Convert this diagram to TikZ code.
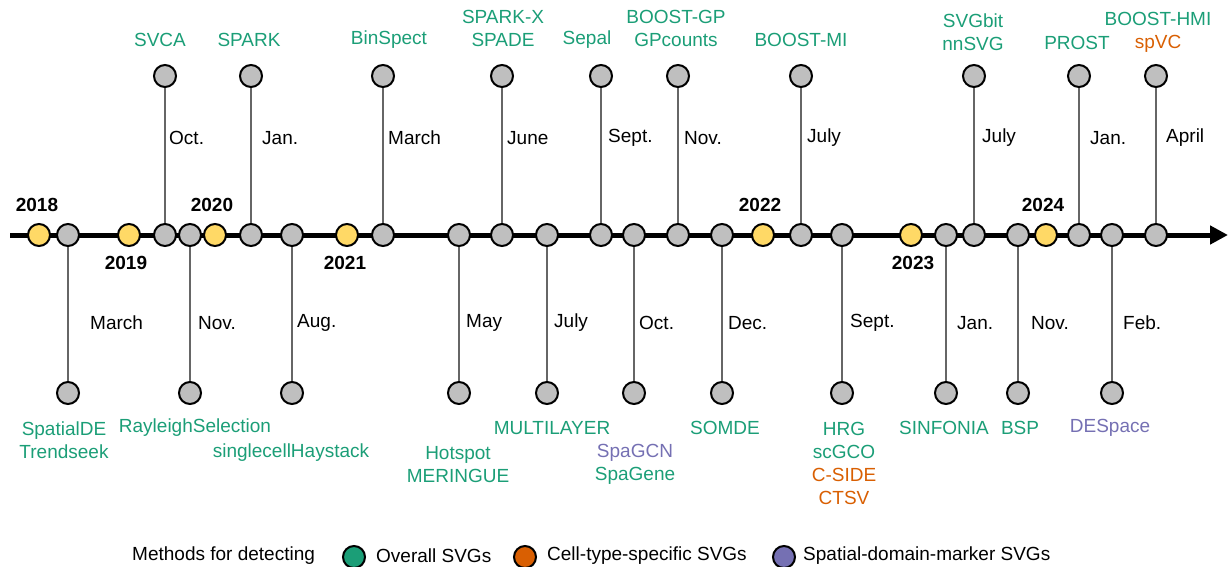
\documentclass[tikz,border=0pt]{standalone}
\usepackage{fontspec}
\setmainfont{Liberation Sans}
\usetikzlibrary{arrows.meta}
\definecolor{evtgray}{HTML}{BFBFBF}
\definecolor{yrgold}{HTML}{FFD966}
\definecolor{stemgray}{HTML}{666666}
\definecolor{ovgreen}{HTML}{1B9E77}
\definecolor{ctorange}{HTML}{D95F02}
\definecolor{sdpurple}{HTML}{7570B3}
\tikzset{
  evt/.style={circle, draw=black, line width=2pt, fill=evtgray, minimum size=22pt, inner sep=0pt},
  yr/.style={evt, fill=yrgold},
  stem/.style={draw=stemgray, line width=2pt},
  yrlab/.style={font=\fontsize{19}{23}\selectfont\bfseries, inner sep=0pt},
  month/.style={anchor=west, font=\fontsize{19}{23}\selectfont, inner sep=0pt},
  meth/.style={text=ovgreen, align=center, font=\fontsize{19}{23}\selectfont, inner sep=0pt},
  key/.style={circle, draw=black, line width=2pt, minimum size=22pt, inner sep=0pt}
}
\begin{document}
\begin{tikzpicture}[x=1pt,y=-1pt]
    \useasboundingbox (0,0) rectangle (1228,567);
    % Time axis
    \coordinate (ax0) at (10,235);
    \coordinate (ax1) at (1228,235);
    \draw[line width=5pt, -{Triangle[length=18pt,width=18pt]}] (ax0) -- (ax1);
    % Years
    \node[yr] (y18) at (39,235) {};   \node[yrlab] (y18l) at (37,205) {2018};
    \node[yr] (y19) at (129,235) {};  \node[yrlab] (y19l) at (126,263) {2019};
    \node[yr] (y20) at (215,235) {};  \node[yrlab] (y20l) at (212,205) {2020};
    \node[yr] (y21) at (347,235) {};  \node[yrlab] (y21l) at (345,263) {2021};
    \node[yr] (y22) at (763,235) {};  \node[yrlab] (y22l) at (760,205) {2022};
    \node[yr] (y23) at (911,235) {};  \node[yrlab] (y23l) at (913,263) {2023};
    \node[yr] (y24) at (1046,235) {}; \node[yrlab] (y24l) at (1043,205) {2024};
    % Upper events
    \node[evt] (oct19) at (165,235) {}; \node[evt] (oct19t) at (165,76) {};
    \draw[stem] (oct19) -- (oct19t);
    \node[month] (oct19m) at (169,138) {Oct.};
    \node[meth] (oct19l) at (160,40) {SVCA};
    \node[evt] (jan20) at (251,235) {}; \node[evt] (jan20t) at (251,76) {};
    \draw[stem] (jan20) -- (jan20t);
    \node[month] (jan20m) at (262,138) {Jan.};
    \node[meth] (jan20l) at (249,40) {SPARK};
    \node[evt] (mar21) at (383,235) {}; \node[evt] (mar21t) at (383,76) {};
    \draw[stem] (mar21) -- (mar21t);
    \node[month] (mar21m) at (388,138) {March};
    \node[meth] (mar21l) at (389,40) {BinSpect};
    \node[evt] (jun21) at (502,235) {}; \node[evt] (jun21t) at (502,76) {};
    \draw[stem] (jun21) -- (jun21t);
    \node[month] (jun21m) at (507,138) {June};
    \node[meth] (jun21l) at (503,28.5) {SPARK-X\\SPADE};
    \node[evt] (sep21) at (601,235) {}; \node[evt] (sep21t) at (601,76) {};
    \draw[stem] (sep21) -- (sep21t);
    \node[month] (sep21m) at (608,138) {Sept.};
    \node[meth] (sep21l) at (587,40) {Sepal};
    \node[evt] (nov21) at (678,235) {}; \node[evt] (nov21t) at (678,76) {};
    \draw[stem] (nov21) -- (nov21t);
    \node[month] (nov21m) at (684,138) {Nov.};
    \node[meth] (nov21l) at (676,28.5) {BOOST-GP\\GPcounts};
    \node[evt] (jul22) at (801,235) {}; \node[evt] (jul22t) at (801,76) {};
    \draw[stem] (jul22) -- (jul22t);
    \node[month] (jul22m) at (807,138) {July};
    \node[meth] (jul22l) at (801,40) {BOOST-MI};
    \node[evt] (jul23) at (974,235) {}; \node[evt] (jul23t) at (974,76) {};
    \draw[stem] (jul23) -- (jul23t);
    \node[month] (jul23m) at (982,138) {July};
    \node[meth] (jul23l) at (973,32) {SVGbit\\nnSVG};
    \node[evt] (jan24) at (1079,235) {}; \node[evt] (jan24t) at (1079,76) {};
    \draw[stem] (jan24) -- (jan24t);
    \node[month] (jan24m) at (1090,138) {Jan.};
    \node[meth] (jan24l) at (1077,43) {PROST};
    \node[evt] (apr24) at (1156,235) {}; \node[evt] (apr24t) at (1156,76) {};
    \draw[stem] (apr24) -- (apr24t);
    \node[month] (apr24m) at (1166,138) {April};
    \node[meth] (apr24l) at (1158,32) {BOOST-HMI\\\textcolor{ctorange}{spVC}};
    % Lower events
    \node[evt] (mar18) at (68,235) {}; \node[evt] (mar18b) at (68,393) {};
    \draw[stem] (mar18) -- (mar18b);
    \node[month] (mar18m) at (90,323) {March};
    \node[meth] (mar18l) at (64,440) {SpatialDE\\Trendseek};
    \node[evt] (nov19) at (190,235) {}; \node[evt] (nov19b) at (190,393) {};
    \draw[stem] (nov19) -- (nov19b);
    \node[month] (nov19m) at (198,323) {Nov.};
    \node[meth] (nov19l) at (195,428) {RayleighSelection};
    \node[evt] (aug20) at (292,235) {}; \node[evt] (aug20b) at (292,393) {};
    \draw[stem] (aug20) -- (aug20b);
    \node[month] (aug20m) at (297,323) {Aug.};
    \node[meth] (aug20l) at (291,453) {singlecellHaystack};
    \node[evt] (may21) at (459,235) {}; \node[evt] (may21b) at (459,393) {};
    \draw[stem] (may21) -- (may21b);
    \node[month] (may21m) at (466,323) {May};
    \node[meth] (may21l) at (458,464.5) {Hotspot\\MERINGUE};
    \node[evt] (jul21) at (547,235) {}; \node[evt] (jul21b) at (547,393) {};
    \draw[stem] (jul21) -- (jul21b);
    \node[month] (jul21m) at (554,323) {July};
    \node[meth] (jul21l) at (552,428) {MULTILAYER};
    \node[evt] (oct21) at (634,235) {}; \node[evt] (oct21b) at (634,393) {};
    \draw[stem] (oct21) -- (oct21b);
    \node[month] (oct21m) at (639,323) {Oct.};
    \node[meth] (oct21l) at (635,464.5) {\textcolor{sdpurple}{SpaGCN}\\SpaGene};
    \node[evt] (dec21) at (722,235) {}; \node[evt] (dec21b) at (722,393) {};
    \draw[stem] (dec21) -- (dec21b);
    \node[month] (dec21m) at (728,323) {Dec.};
    \node[meth] (dec21l) at (725,428) {SOMDE};
    \node[evt] (sep22) at (842,235) {}; \node[evt] (sep22b) at (842,393) {};
    \draw[stem] (sep22) -- (sep22b);
    \node[month] (sep22m) at (850,323) {Sept.};
    \node[meth] (sep22l) at (844,463) {HRG\\scGCO\\\textcolor{ctorange}{C-SIDE}\\\textcolor{ctorange}{CTSV}};
    \node[evt] (jan23) at (946,235) {}; \node[evt] (jan23b) at (946,393) {};
    \draw[stem] (jan23) -- (jan23b);
    \node[month] (jan23m) at (957,323) {Jan.};
    \node[meth] (jan23l) at (944,428) {SINFONIA};
    \node[evt] (nov23) at (1018,235) {}; \node[evt] (nov23b) at (1018,393) {};
    \draw[stem] (nov23) -- (nov23b);
    \node[month] (nov23m) at (1031,323) {Nov.};
    \node[meth] (nov23l) at (1020,428) {BSP};
    \node[evt] (feb24) at (1112,235) {}; \node[evt] (feb24b) at (1112,393) {};
    \draw[stem] (feb24) -- (feb24b);
    \node[month] (feb24m) at (1123,323) {Feb.};
    \node[meth, text=sdpurple] (feb24l) at (1110,428) {DESpace};
    % Legend
    \node[month] (lgd) at (132,556) {Methods for detecting};
    \node[key, fill=ovgreen] (lgdov) at (354,557) {};
    \node[month] (lgdovl) at (376,556) {Overall SVGs};
    \node[key, fill=ctorange] (lgdct) at (525,557) {};
    \node[month] (lgdctl) at (547,556) {Cell-type-specific SVGs};
    \node[key, fill=sdpurple] (lgdsd) at (784,557) {};
    \node[month] (lgdsdl) at (803,556) {Spatial-domain-marker SVGs};
\end{tikzpicture}
\end{document}
